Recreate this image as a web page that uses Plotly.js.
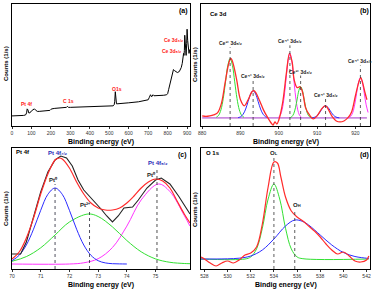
<!DOCTYPE html>
<html>
<head>
<meta charset="utf-8">
<script src="https://cdn.plot.ly/plotly-3.0.1.min.js"></script>
<style>html,body{margin:0;padding:0;background:#fff;}#chart{width:376px;height:292px;}</style>
</head>
<body>
<div id="chart"></div>
<script>
// ---------- (a) survey ----------
const surveyE = [0,20,40,60,70,75,78,82,86,92,100,108,115,120,125,130,140,160,180,195,200,205,220,250,280,285,290,300,350,400,450,500,520,525,528,531,534,537,540,560,600,650,680,700,705,712,718,725,730,740,760,780,795,800,805,812,820,826,830,835,840,850,860,865,870,875,878,882,884,886,888,890,892,895,898,900,903,906,910,914];
const surveyC = [10,10,10.3,10.5,11,13,17,16,13,13,15,16.5,17,16,15,14.5,14.5,15,15,15.5,16.5,17,17.5,18,18.5,19.5,18.5,18.5,19,19,19.5,20,20,21,24,34,24,22,22,22.5,23,24,25,26,28,31,29,31,30,30,30,30.5,31,32,36,42,48,55,56,55,54,53,54,56,58,62,68,72,70,75,90,85,72,70,82,96,85,78,72,76];

// ---------- (b) Ce 3d ----------
const ceE = [880,881,882,883,884,885,886,887,887.5,888,889,890,891,892,893,893.5,894,895,896,897,898,898.5,899,899.5,900,901,902,902.8,903.5,904,904.8,905.5,906,906.5,907,908,909,910,911,912,912.5,913,914,915,916,917,918,919,920,921,921.4,922,922.5,923];
const ceC = [2,1.5,2,3,5,14,35,55,59,55,38,18,12,18,26,27,25,17,8,1,-5,-7,-4,-6,-2,15,45,64,55,38,30,31,28,20,10,3,-1,2,8,12,11,8,1,-3,-4,-3,0,6,22,37,40,33,25,18];
const ceBaseE = [880,923];
const ceBaseC = [0,0];
const ceP1E = [883.7,884.3,884.9,885.5,886.1,886.7,887.3,887.9,888.5,889.1,889.7,890.3,890.9];
const ceP1C = [0.7,2.6,8.0,19.2,35.8,52.1,59,52.1,35.8,19.2,8.0,2.6,0.7];
const ceP2E = [889.4,890.05,890.7,891.35,892.0,892.65,893.3,893.95,894.6,895.25,895.9,896.55,897.2];
const ceP2C = [0.3,1.2,3.7,8.8,16.4,23.8,27,23.8,16.4,8.8,3.7,1.2,0.3];
const ceP3E = [899.9,900.4,900.9,901.4,901.9,902.4,902.9,903.4,903.9,904.4,904.9,905.4,905.9];
const ceP3C = [0.7,2.8,8.7,20.8,38.8,56.5,64,56.5,38.8,20.8,8.7,2.8,0.7];
const ceP4E = [903.0,903.45,903.9,904.35,904.8,905.25,905.7,906.15,906.6,907.05,907.5,907.95,908.4];
const ceP4C = [0.3,1.4,4.2,10.1,18.8,27.4,31,27.4,18.8,10.1,4.2,1.4,0.3];
const ceP5E = [908.6,909.2,909.8,910.4,911.0,911.6,912.2,912.8,913.4,914.0,914.6,915.2,915.8];
const ceP5C = [0.1,0.5,1.6,3.9,7.3,10.6,12,10.6,7.3,3.9,1.6,0.5,0.1];
const ceP6E = [918.3,918.8,919.3,919.8,920.3,920.8,921.3,921.8,922.3,922.8,923.3];
const ceP6C = [0.4,1.8,5.4,13.0,24.3,35.3,40,35.3,24.3,13.0,5.4];
const cePeakE = [887.3,893.3,902.9,905.7,912.2,921.3];
const cePeakTop = [70,38,72,42,19,52];
const ceIon = ['³⁺','⁴⁺','⁴⁺','³⁺','⁴⁺','⁴⁺'];
const ceLevel = ['5','5','5','3','3','3'];

// ---------- (c) Pt 4f ----------
const ptDataE = [70.0,70.3,70.5,70.75,71.0,71.25,71.5,71.7,71.9,72.1,72.3,72.5,72.7,72.9,73.1,73.3,73.5,73.7,73.9,74.2,74.4,74.7,75.0,75.2,75.5,75.8,76.2];
const ptDataC = [10,10,22,48,72,92,104,108,106,98,84,74,68,62,55,48,42,48,56,57,64,76,84,86,80,68,50];
const ptFitE = [70.0,70.25,70.5,70.75,71.0,71.25,71.5,71.65,71.75,72.0,72.25,72.5,72.75,73.0,73.25,73.5,73.75,74.0,74.25,74.5,74.75,75.0,75.25,75.5,75.75,76.0,76.2];
const ptFitC = [5,12,26,46,70,90,104,106,105,96,82,70,61,56,54,54,56,61,68,76,82,85,83,76,63,50,41];
const ptBlueE = [70.0,70.25,70.5,70.75,71.0,71.25,71.5,71.75,72.0,72.25,72.5,72.75,73.0,73.25,73.5,73.75,74.0];
const ptBlueC = [3.3,8.7,19,34.8,53.7,69.7,76,69.7,53.7,34.8,19,8.7,3.3,1.1,0.3,0.1,0];
const ptGreenE = [70.0,70.5,71.0,71.5,72.0,72.65,73.0,73.5,74.0,74.5,75.0,75.5,76.0,76.2];
const ptGreenC = [2.7,7.4,16.2,29.0,42.0,50,47.5,37.1,23.5,12.2,5.1,1.7,0.5,0.3];
const ptMagE = [70.0,72.0,72.5,73.0,73.5,74.0,74.5,75.1,75.5,76.0,76.2];
const ptMagC = [0,0,1.2,5.3,16.5,37.9,64.1,80,72.5,48.5,37.9];
const ptLineE = [71.5,72.7,75.05];
const ptLineTop = [80,55,96];

// ---------- (d) O 1s ----------
const oDataE = [527.7,528,528.5,529,529.5,530,530.5,531,531.5,532,532.5,533,533.5,534,534.3,534.6,535,535.5,536,536.5,537,537.5,538,538.5,539,539.5,540,540.5,541,541.5,542,542.2];
const oDataC = [2,0,-4,-7,-4,-2,-4,-1,4,6,12,35,72,97,96,82,62,48,42,38,33,28,22,15,9,5,7,3,-2,-3,-1,3];
const oBlueE = [527.7,529,530,531,532,533,534,535,535.8,536.5,537,538,539,540,541,542,542.2];
const oBlueC = [0,0,0.2,0.8,3,9,20,33,39,37.5,34,24,14,6.5,2.5,0.8,0.6];
const oGreenE = [527.7,531.5,532,532.5,533,533.5,534,534.5,535,535.5,536,536.5,542.2];
const oGreenC = [0,0,2.1,10.1,30.8,60,75,60,30.8,10.1,2.1,0.3,0];
const oLineE = [534.0,535.8];
const oLineTop = [103,50];

// ---------- build ----------
const RED='#ff2b2b', GREEN='#33e033', BLUE='#2b2bff', MAG='#ff33ff', PURP='#a335c8';
function ln(x,y,xa,ya,color,w,shape,dash){
  return {type:'scatter',mode:'lines',x:x,y:y,xaxis:xa,yaxis:ya,hoverinfo:'skip',
    line:{color:color,width:w||1,shape:shape||'linear',smoothing:1,dash:dash||'solid'}};
}
const traces=[];
traces.push(ln(surveyE,surveyC,'x','y','#000',1));
traces.push(ln(ceBaseE,ceBaseC,'x2','y2',PURP,1));
traces.push(ln(ceP1E,ceP1C,'x2','y2',GREEN,1,'spline'));
traces.push(ln(ceP2E,ceP2C,'x2','y2',BLUE,1,'spline'));
traces.push(ln(ceP3E,ceP3C,'x2','y2',MAG,1,'spline'));
traces.push(ln(ceP4E,ceP4C,'x2','y2',GREEN,1,'spline'));
traces.push(ln(ceP5E,ceP5C,'x2','y2',BLUE,1,'spline'));
traces.push(ln(ceP6E,ceP6C,'x2','y2',MAG,1,'spline'));
traces.push(ln(ceE,ceC,'x2','y2',RED,1.3,'spline'));
cePeakE.forEach((e,i)=>traces.push(ln([e,e],[-8,cePeakTop[i]],'x2','y2','#333',0.8,'linear','dot')));
traces.push(ln(ptMagE,ptMagC,'x3','y3',MAG,1,'spline'));
traces.push(ln(ptGreenE,ptGreenC,'x3','y3',GREEN,1,'spline'));
traces.push(ln(ptBlueE,ptBlueC,'x3','y3',BLUE,1,'spline'));
traces.push(ln(ptDataE,ptDataC,'x3','y3','#222',1.1));
traces.push(ln(ptFitE,ptFitC,'x3','y3',RED,1.2,'spline'));
ptLineE.forEach((e,i)=>traces.push(ln([e,e],[-5,ptLineTop[i]],'x3','y3',i<2?'#223':'#222',0.8,'linear','dot')));
traces.push(ln(oGreenE,oGreenC,'x4','y4',GREEN,1,'spline'));
traces.push(ln(oBlueE,oBlueC,'x4','y4',BLUE,1,'spline'));
traces.push(ln(oDataE,oDataC,'x4','y4',RED,1.2,'spline'));
oLineE.forEach((e,i)=>traces.push(ln([e,e],[-10,oLineTop[i]],'x4','y4','#333',0.8,'linear','dot')));

const W=376,H=292;
const F='Liberation Sans, Arial, sans-serif';
function ax(l,r,extra){
  return Object.assign({domain:[l/W,r/W],showline:true,mirror:true,linecolor:'#000',linewidth:1,
    showgrid:false,zeroline:false,ticks:'outside',ticklen:2,tickwidth:0.8,tickcolor:'#000',
    tickfont:{size:5,color:'#333',family:F},fixedrange:true},extra);
}
function ay(t,b,extra){
  return Object.assign({domain:[1-b/H,1-t/H],showline:true,mirror:true,linecolor:'#000',linewidth:1,
    showgrid:false,zeroline:false,showticklabels:false,ticks:'',fixedrange:true},extra);
}
function note(text,x,y,xref,yref,font,o){
  return Object.assign({text:text,x:x,y:y,xref:xref,yref:yref,showarrow:false,
    font:font,xanchor:'center',yanchor:'middle'},o||{});
}
function fnt(size,color){return {family:F,size:size,color:color||'#000',weight:'bold'};}
// subscript "n/2" drawn with unicode subscript digits
const SUB={'3':'₃','5':'₅','7':'₇'};
function half(n,px){return SUB[n]+'<span style="font-size:'+px+'px">/</span>₂';}
const annotations=[];
[[101,142],[286,142],[101,285],[286,285]].forEach((p,i)=>{
  annotations.push(note(i===3?'Bindig energy (eV)':'Binding energy (eV)',p[0]/W,1-p[1]/H,'paper','paper',fnt(7)));
});
[[6,64],[195,64],[6,209],[195,209]].forEach(p=>{
  annotations.push(note('Counts (1/s)',p[0]/W,1-p[1]/H,'paper','paper',fnt(6),{textangle:-90}));
});
[['(a)',183,11],['(b)',364,11],['(c)',182,155],['(d)',364,155]].forEach(p=>{
  annotations.push(note(p[0],p[1]/W,1-p[2]/H,'paper','paper',fnt(7)));
});
annotations.push(note('Ce 3d',208/W,1-14/H,'paper','paper',fnt(6),{xanchor:'left'}));
annotations.push(note('Pt 4f',14/W,1-152/H,'paper','paper',fnt(6),{xanchor:'left'}));
annotations.push(note('O 1s',204/W,1-153/H,'paper','paper',fnt(6),{xanchor:'left'}));
const redF=fnt(5,'#ff2020');
annotations.push(note('Pt 4f',77,22,'x','y',redF));
annotations.push(note('C 1s',292,25,'x','y',redF));
annotations.push(note('O1s',538,37,'x','y',redF));
annotations.push(note('Ce 3d'+half('3',4),830,85,'x','y',redF));
annotations.push(note('Ce 3d'+half('5',4),818,74,'x','y',redF));
cePeakE.forEach((e,i)=>annotations.push(note('Ce'+ceIon[i]+' 3d'+half(ceLevel[i],4),e,cePeakTop[i]+4,'x2','y2',fnt(5,'#222'))));
const blueF=fnt(6,'#2a2ab8');
const blkF=fnt(6,'#222');
annotations.push(note('Pt 4f'+half('7',4),71.6,111,'x3','y3',blueF));
annotations.push(note('Pt⁰',71.45,85,'x3','y3',blkF));
annotations.push(note('Pt²⁺',72.55,59,'x3','y3',blkF));
annotations.push(note('Pt⁰',74.85,90,'x3','y3',blkF));
annotations.push(note('Pt 4f'+half('5',4),75.1,101,'x3','y3',blueF));
annotations.push(note('O<span style="font-size:4px">L</span>',534.0,106,'x4','y4',blkF));
annotations.push(note('O<span style="font-size:4px">H</span>',536.0,54,'x4','y4',blkF));

const layout={width:W,height:H,margin:{l:0,r:0,t:0,b:0},paper_bgcolor:'#fff',plot_bgcolor:'#fff',showlegend:false,
  font:{family:F,size:6},
  xaxis:ax(12,190,{anchor:'y',range:[0,915],tickvals:[0,100,200,300,400,500,600,700,800,900]}),
  yaxis:ay(4,126,{anchor:'x',range:[0,121]}),
  xaxis2:ax(201,370,{anchor:'y2',range:[879.7,923.8],tickvals:[880,890,900,910,920]}),
  yaxis2:ay(4,126,{anchor:'x2',range:[-8,113]}),
  xaxis3:ax(12,190,{anchor:'y3',range:[70,76.2],tickvals:[70,71,72,73,74,75]}),
  yaxis3:ay(148,269,{anchor:'x3',range:[-5,116]}),
  xaxis4:ax(201,370,{anchor:'y4',range:[527.7,542.3],tickvals:[528,530,532,534,536,538,540,542]}),
  yaxis4:ay(148,269,{anchor:'x4',range:[-10,111]}),
  annotations:annotations};
Plotly.newPlot('chart',traces,layout,{staticPlot:true,displayModeBar:false});
</script>
</body>
</html>
